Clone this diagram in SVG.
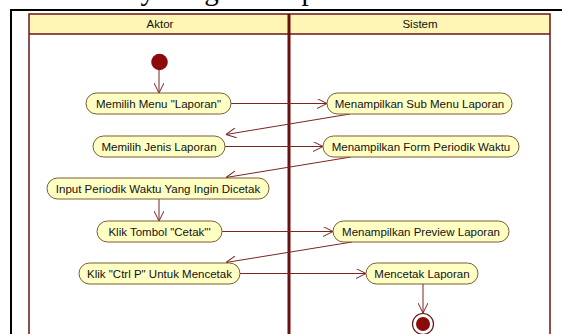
<svg xmlns="http://www.w3.org/2000/svg" width="562" height="334" viewBox="0 0 562 334">
  <style>
    .lane { fill: none; stroke: #6b1616; stroke-width: 1.5; }
    .head { fill: #fff6b6; }
    .act rect { fill: #ffffc4; stroke: #7a5c34; stroke-width: 1; }
    .act text, .lbl { font-family: "Liberation Sans", Arial, sans-serif; font-size: 11.5px; fill: #111; text-anchor: middle; }
    .flow { fill: none; stroke: #7a2424; stroke-width: 1; marker-end: url(#open); }
    .title { font-family: "Liberation Serif", "Times New Roman", serif; font-size: 29px; fill: #000; }
  </style>
  <defs>
    <marker id="open" viewBox="0 0 10 10" refX="10" refY="5" markerWidth="10" markerHeight="10" markerUnits="userSpaceOnUse" orient="auto">
      <path d="M0,0 L10,5 L0,10" fill="none" stroke="#7a2424" stroke-width="1"/>
    </marker>
  </defs>

  <rect width="562" height="334" fill="#ffffff"/>

  <!-- page title, mostly above the visible area -->
  <text class="title" x="60" y="-0.5">Activity Diagram Laporan</text>

  <!-- outer page frame -->
  <path d="M11,334 L11,10 L562,10" fill="none" stroke="#000" stroke-width="2"/>

  <!-- swimlanes -->
  <g id="lanes">
    <rect class="head" x="29" y="14" width="521" height="20"/>
    <path class="lane" d="M29,340 L29,14 L550,14 L550,340 M29,34 L550,34"/>
    <line x1="289" y1="14" x2="289" y2="340" stroke="#6b0f0f" stroke-width="3"/>
    <text class="lbl" x="160" y="28">Aktor</text>
    <text class="lbl" x="420" y="28">Sistem</text>
  </g>

  <!-- connectors -->
  <g id="connectors">
    <line class="flow" x1="159" y1="70" x2="159" y2="93"/>
    <line class="flow" x1="231" y1="103.5" x2="327" y2="103.5"/>
    <line class="flow" x1="350" y1="114" x2="226" y2="134.5"/>
    <line class="flow" x1="225" y1="146.5" x2="323" y2="146.5"/>
    <line class="flow" x1="351" y1="157" x2="226" y2="177.5"/>
    <line class="flow" x1="159" y1="199" x2="159" y2="221"/>
    <line class="flow" x1="222" y1="231.5" x2="333" y2="231.5"/>
    <line class="flow" x1="352" y1="242" x2="226" y2="262.5"/>
    <line class="flow" x1="240" y1="273.5" x2="366" y2="273.5"/>
    <line class="flow" x1="423" y1="284" x2="423" y2="313"/>
  </g>

  <!-- start / end -->
  <g id="start">
    <circle cx="159.5" cy="62" r="8.3" fill="#8b0a0a"/>
  </g>
  <g id="end">
    <circle cx="423" cy="324" r="10.5" fill="#fff" stroke="#6b1616" stroke-width="1.2"/>
    <circle cx="423" cy="324" r="7" fill="#8b0a0a"/>
  </g>

  <!-- activities -->
  <g id="memilih-menu" class="act">
    <rect x="86" y="93" width="145" height="21" rx="10.5"/>
    <text x="158.5" y="107.5">Memilih Menu "Laporan"</text>
  </g>
  <g id="sub-menu" class="act">
    <rect x="327" y="93" width="185" height="21" rx="10.5"/>
    <text x="419.5" y="107.5">Menampilkan Sub Menu Laporan</text>
  </g>
  <g id="jenis-laporan" class="act">
    <rect x="93" y="136" width="132" height="21" rx="10.5"/>
    <text x="159" y="150.5">Memilih Jenis Laporan</text>
  </g>
  <g id="form-periodik" class="act">
    <rect x="323" y="136" width="196" height="21" rx="10.5"/>
    <text x="421" y="150.5">Menampilkan Form Periodik Waktu</text>
  </g>
  <g id="input-periodik" class="act">
    <rect x="47" y="178" width="222" height="21" rx="10.5"/>
    <text x="158" y="192.5">Input Periodik Waktu Yang Ingin Dicetak</text>
  </g>
  <g id="klik-cetak" class="act">
    <rect x="97" y="221" width="125" height="21" rx="10.5"/>
    <text x="159.5" y="235.5">Klik Tombol "Cetak"'</text>
  </g>
  <g id="preview" class="act">
    <rect x="333" y="221" width="176" height="21" rx="10.5"/>
    <text x="421" y="235.5">Menampilkan Preview Laporan</text>
  </g>
  <g id="ctrl-p" class="act">
    <rect x="79" y="263" width="161" height="21" rx="10.5"/>
    <text x="159.5" y="277.5">Klik "Ctrl P" Untuk Mencetak</text>
  </g>
  <g id="mencetak" class="act">
    <rect x="366" y="263" width="112" height="21" rx="10.5"/>
    <text x="422" y="277.5">Mencetak Laporan</text>
  </g>
</svg>
